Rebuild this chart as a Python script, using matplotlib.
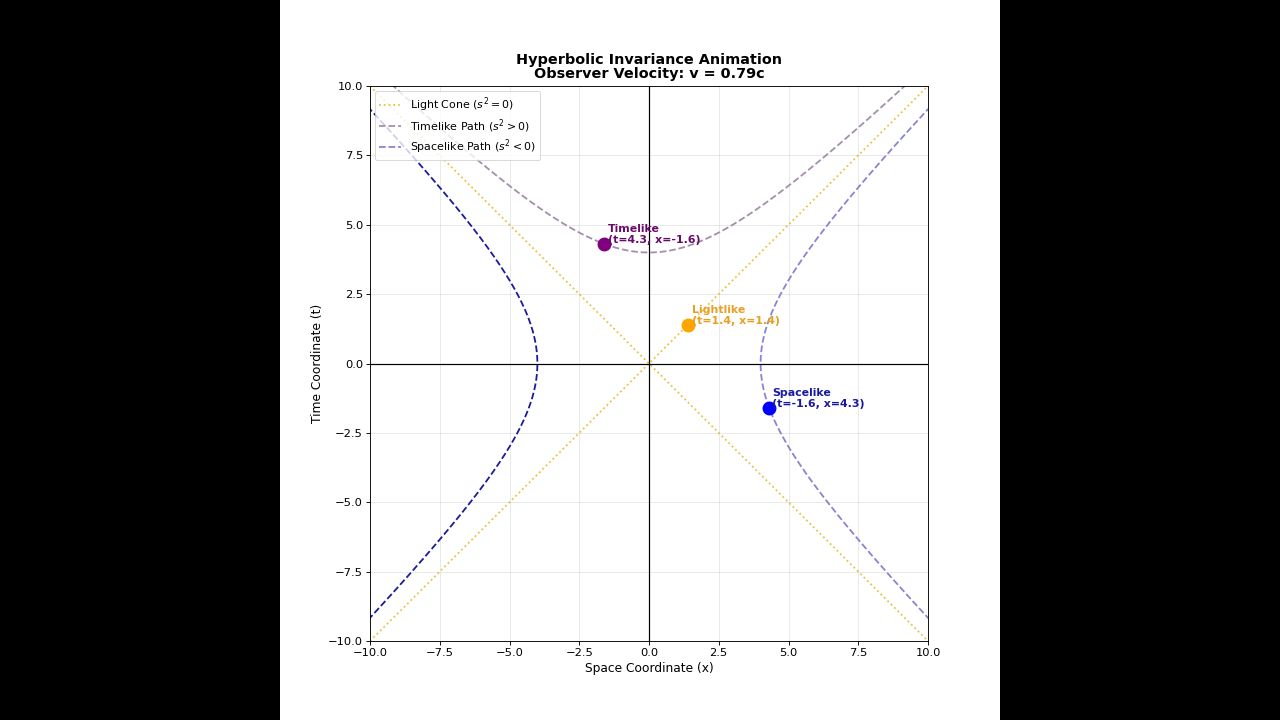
import numpy as np
import matplotlib
matplotlib.use("Agg")
import matplotlib.pyplot as plt

# ---- data ----
interval_s2 = 16.0           # invariant interval magnitude
velocity = 0.79
axis_lim = 10.0
tick_vals = [-10.0, -7.5, -5.0, -2.5, 0.0, 2.5, 5.0, 7.5, 10.0]
point_names = ["Timelike", "Lightlike", "Spacelike"]
point_t = [4.3, 1.4, -1.6]
point_x = [-1.6, 1.4, 4.3]
point_colors = ["purple", "orange", "blue"]
label_colors = ["#6a0a6a", "#e8a020", "#1a1aa0"]

S = 0.72  # px->pt scaling

fig = plt.figure(figsize=(12.8, 7.2), dpi=100, facecolor="black")
bg = fig.add_axes([280/1280, 0, 720/1280, 1], zorder=-10)
bg.set_axis_off()
bg.add_patch(plt.Rectangle((0, 0), 1, 1, transform=bg.transAxes, facecolor="white", edgecolor="none"))

ax = fig.add_axes([370/1280, (720-641)/720, 558/1280, 555/720])

LW = 1.8 * S
coord = np.linspace(-axis_lim, axis_lim, 600)
# light cone
ax.plot(coord, coord, ls=":", color="#dcb000", alpha=0.75, lw=LW, label="Light Cone ($s^2=0$)")
ax.plot(coord, -coord, ls=":", color="#dcb000", alpha=0.75, lw=LW)
# timelike (upper branch)
ax.plot(coord, np.sqrt(interval_s2 + coord**2), ls="--", color="#a48fab", lw=LW,
        label="Timelike Path ($s^2>0$)")
# spacelike branches
ax.plot(np.sqrt(interval_s2 + coord**2), coord, ls="--", color="#8884d0", lw=LW,
        label="Spacelike Path ($s^2<0$)")
ax.plot(-np.sqrt(interval_s2 + coord**2), coord, ls="--", color="#1a1a9a", lw=LW)

ax.axhline(0, color="black", lw=1.2*S)
ax.axvline(0, color="black", lw=1.2*S)

for name, t, x, pc, lc in zip(point_names, point_t, point_x, point_colors, label_colors):
    ax.plot([x], [t], "o", color=pc, markersize=12.5*S, zorder=5)
    ax.annotate(f"{name}\n(t={t}, x={x})", (x, t), xytext=(2.5, 0.5), textcoords="offset points",
                fontsize=11*S, fontweight="bold", color=lc, linespacing=1.15, zorder=6)

ax.set_xlim(-axis_lim, axis_lim)
ax.set_ylim(-axis_lim, axis_lim)
ax.set_xticks(tick_vals)
ax.set_yticks(tick_vals)
ax.tick_params(labelsize=11.5*S, length=4*S, width=0.9*S, pad=3*S)
for sp in ax.spines.values():
    sp.set_linewidth(0.9*S)
ax.grid(True, alpha=0.3, lw=0.9*S)
ax.set_xlabel("Space Coordinate (x)", fontsize=12.2*S, labelpad=3)
ax.set_ylabel("Time Coordinate (t)", fontsize=12.2*S, labelpad=3)
ax.set_title(f"Hyperbolic Invariance Animation\nObserver Velocity: v = {velocity}c",
             fontsize=14.4*S, fontweight="bold", pad=5.5, linespacing=1.0)
leg = ax.legend(loc="upper left", fontsize=11*S, framealpha=0.8, labelspacing=0.27,
                borderaxespad=0.45)
leg.get_frame().set_linewidth(0.9*S)

fig.savefig("out.png", dpi=100, facecolor="black")
